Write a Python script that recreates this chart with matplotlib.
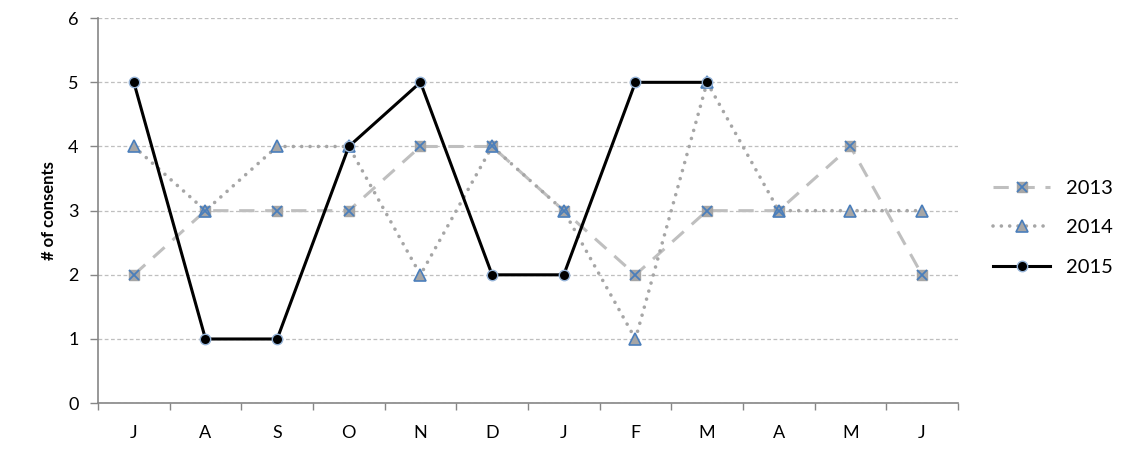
import matplotlib
matplotlib.use("Agg")
import matplotlib.pyplot as plt
from matplotlib.legend_handler import HandlerTuple

months = ["J", "A", "S", "O", "N", "D", "J", "F", "M", "A", "M", "J"]
y2013 = [2, 3, 3, 3, 4, 4, 3, 2, 3, 3, 4, 2]
y2014 = [4, 3, 4, 4, 2, 4, 3, 1, 5, 3, 3, 3]
y2015 = [5, 1, 1, 4, 5, 2, 2, 5, 5]

plt.rcParams['font.family'] = ['Lato', 'DejaVu Sans']

fig = plt.figure(figsize=(11.24, 4.54), dpi=100)
ax = fig.add_axes([0.0872, 0.112, 0.765, 0.848])

x13 = list(range(len(y2013)))
x14 = list(range(len(y2014)))
x15 = list(range(len(y2015)))

blue = '#4A7EBB'
l13, = ax.plot(x13, y2013, color='#BFBFBF', lw=2.2, dashes=(5, 3.5),
               marker='s', markersize=7.5, markerfacecolor='#A6A6A6',
               markeredgecolor='#A6A6A6', zorder=3)
m13, = ax.plot(x13, y2013, ls='none', marker='x', markersize=7.5,
               markeredgecolor=blue, markeredgewidth=1.3, zorder=4)
l14, = ax.plot(x14, y2014, color='#A6A6A6', lw=2.6, dashes=(0.01, 2.3),
               dash_capstyle='round', marker='^', markersize=8.5,
               markerfacecolor='#A6A6A6', markeredgecolor=blue,
               markeredgewidth=1.2, zorder=3)
l15, = ax.plot(x15, y2015, color='black', lw=2.2, marker='o', markersize=7.5,
               markerfacecolor='black', markeredgecolor='#95B3D7',
               markeredgewidth=1.0, zorder=5)

ax.set_xlim(-0.5, 11.5)
ax.set_ylim(0, 6)
ax.set_yticks(range(0, 7))
ax.set_xticks(range(len(months)))
ax.set_xticklabels(months)
ax.set_xticks([i - 0.5 for i in range(len(months) + 1)], minor=True)
ax.tick_params(axis='x', which='major', length=0, pad=16, labelsize=13)
ax.tick_params(axis='x', which='minor', length=5, color='#868686', width=1, direction='out')
ax.tick_params(axis='y', length=6, color='#868686', width=1, labelsize=13, pad=8)

ax.grid(axis='y', color='#BFBFBF', ls=(0, (3, 2)), lw=0.9)
ax.set_axisbelow(True)
for s in ['top', 'right']:
    ax.spines[s].set_visible(False)
for s in ['left', 'bottom']:
    ax.spines[s].set_color('#868686')
    ax.spines[s].set_linewidth(1.2)

ax.set_ylabel('# of consents', fontsize=12, fontweight='bold', labelpad=8)

leg = fig.legend([(l13, m13), l14, l15], ['2013', '2014', '2015'],
                 handler_map={tuple: HandlerTuple(ndivide=1)},
                 loc='center left', bbox_to_anchor=(0.8834, 0.498),
                 frameon=False, fontsize=14.5, handlelength=2.85,
                 labelspacing=1.1, handletextpad=0.8,
                 borderpad=0, borderaxespad=0)

fig.savefig('out.png', dpi=100)
